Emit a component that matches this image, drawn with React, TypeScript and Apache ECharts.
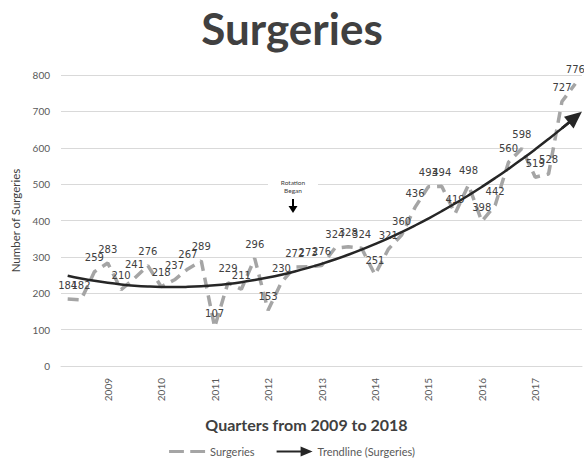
import React, { useEffect, useRef } from "react";
import * as echarts from "echarts";

const quarters = [
  "2009 Q1", "2009 Q2", "2009 Q3", "2009 Q4",
  "2010 Q1", "2010 Q2", "2010 Q3", "2010 Q4",
  "2011 Q1", "2011 Q2", "2011 Q3", "2011 Q4",
  "2012 Q1", "2012 Q2", "2012 Q3", "2012 Q4",
  "2013 Q1", "2013 Q2", "2013 Q3", "2013 Q4",
  "2014 Q1", "2014 Q2", "2014 Q3", "2014 Q4",
  "2015 Q1", "2015 Q2", "2015 Q3", "2015 Q4",
  "2016 Q1", "2016 Q2", "2016 Q3", "2016 Q4",
  "2017 Q1", "2017 Q2", "2017 Q3", "2017 Q4",
  "2018 Q1", "2018 Q2", "2018 Q3",
];

const surgeries = [
  184, 182, 259, 283, 210, 241, 276, 218, 237, 267, 289, 107, 229, 211, 296, 153,
  230, 272, 273, 276, 324, 328, 324, 251, 321, 360, 436, 493, 494, 419, 498, 398,
  442, 560, 598, 519, 528, 727, 776,
];

const yTicks = [0, 100, 200, 300, 400, 500, 600, 700, 800];

const TREND_DEGREE = 2;

function polyfit(ys: number[], deg: number): number[] {
  const n = deg + 1;
  const A: number[][] = Array.from({ length: n }, () => new Array(n + 1).fill(0));
  ys.forEach((y, i) => {
    const x = i + 1;
    for (let r = 0; r < n; r++) {
      for (let c = 0; c < n; c++) A[r][c] += Math.pow(x, r + c);
      A[r][n] += y * Math.pow(x, r);
    }
  });
  for (let k = 0; k < n; k++) {
    let p = k;
    for (let r = k + 1; r < n; r++) if (Math.abs(A[r][k]) > Math.abs(A[p][k])) p = r;
    const tmp = A[k]; A[k] = A[p]; A[p] = tmp;
    for (let r = 0; r < n; r++) {
      if (r === k) continue;
      const f = A[r][k] / A[k][k];
      for (let c = k; c <= n; c++) A[r][c] -= f * A[k][c];
    }
  }
  return A.map((row, i) => row[n] / row[i]);
}

export default function App() {
  const ref = useRef<HTMLDivElement>(null);
  useEffect(() => {
    if (!ref.current) return;
    const chart = echarts.init(ref.current, null, { renderer: "svg" });
    const coeffs = polyfit(surgeries, TREND_DEGREE);
    const trend = surgeries.map((_, i) =>
      coeffs.reduce((s, c, j) => s + c * Math.pow(i + 1, j), 0)
    );
    const last = quarters.length - 1;
    chart.setOption({
      animation: false,
      title: {
        text: "Surgeries",
        left: "center",
        top: 1,
        textStyle: { fontFamily: "Lato", fontWeight: 700, fontSize: 44, color: "#404040" },
      },
      grid: { left: 61, right: 2, top: 75, bottom: 96, containLabel: false },
      legend: {
        bottom: 0,
        left: "center",
        itemWidth: 36,
        itemHeight: 10,
        itemGap: 22,
        textStyle: { fontFamily: "Lato", fontSize: 11, color: "#595959" },
        data: [
          {
            name: "Surgeries",
            icon: "path://M0,3.5 L14,3.5 L14,6.5 L0,6.5 Z M20,3.5 L34,3.5 L34,6.5 L20,6.5 Z",
            itemStyle: { color: "#A5A5A5", opacity: 1 },
          },
          {
            name: "Trendline (Surgeries)",
            icon: "path://M0,4 L24,4 L24,0 L36,5 L24,10 L24,6 L0,6 Z",
            itemStyle: { color: "#262626" },
          },
        ],
      },
      xAxis: {
        type: "category",
        data: quarters,
        boundaryGap: true,
        name: "Quarters from 2009 to 2018",
        nameLocation: "middle",
        nameGap: 50,
        nameTextStyle: {
          fontFamily: "Lato",
          fontWeight: 700,
          fontSize: 16,
          color: "#404040",
          padding: [0, 30, 0, 0],
        },
        axisLine: { lineStyle: { color: "#D9D9D9" } },
        axisTick: { show: false },
        axisLabel: {
          interval: (index: number) => index % 4 === 3,
          rotate: 90,
          margin: 12,
          fontFamily: "Lato",
          fontSize: 10,
          color: "#595959",
          formatter: (v: string) => v.split(" ")[0],
        },
      },
      yAxis: {
        type: "value",
        min: yTicks[0],
        max: yTicks[yTicks.length - 1],
        interval: 100,
        name: "Number of Surgeries",
        nameLocation: "middle",
        nameGap: 40,
        nameTextStyle: { fontFamily: "Lato", fontSize: 11.5, color: "#404040" },
        axisLine: { show: false },
        axisTick: { show: false },
        splitLine: { lineStyle: { color: "#D9D9D9", width: 1 } },
        axisLabel: { margin: 11, fontFamily: "Lato", fontSize: 10, color: "#595959" },
      },
      series: [
        {
          name: "Surgeries",
          type: "line",
          data: surgeries,
          symbol: "circle",
          symbolSize: 0.1,
          showSymbol: true,
          showAllSymbol: true,
          z: 2,
          lineStyle: { color: "#A5A5A5", width: 3.5, type: [11, 7], cap: "butt" },
          itemStyle: { color: "rgba(165,165,165,0)", borderWidth: 0 },
          label: {
            show: true,
            position: "top",
            distance: 9,
            fontFamily: "DejaVu Sans",
            fontSize: 10,
            color: "#404040",
          },
          labelLayout: { hideOverlap: false },
        },
        {
          name: "Trendline (Surgeries)",
          type: "line",
          data: trend,
          smooth: true,
          symbol: "none",
          z: 3,
          lineStyle: { color: "#262626", width: 2.5 },
          itemStyle: { color: "#262626" },
          markLine: {
            silent: true,
            symbol: ["none", "triangle"],
            symbolSize: [15, 17],
            label: { show: false },
            lineStyle: { color: "#262626", width: 2.5, type: "solid" },
            data: [
              [
                { coord: [quarters[last - 1], trend[last - 1]] },
                { coord: [quarters[last], trend[last]] },
              ],
            ],
          },
        },
      ],
      graphic: [
        {
          type: "rect",
          z: 100,
          shape: { x: 268, y: 175, width: 50, height: 21 },
          style: { fill: "#FFFFFF" },
        },
        {
          type: "text",
          z: 101,
          x: 293,
          y: 178,
          style: {
            text: "Rotation\nBegan",
            fontFamily: "Lato",
            fontSize: 6.5,
            lineHeight: 8,
            fill: "#404040",
            align: "center",
          },
        },
        {
          type: "line",
          z: 101,
          shape: { x1: 293, y1: 199, x2: 293, y2: 208 },
          style: { stroke: "#000000", lineWidth: 2 },
        },
        {
          type: "polygon",
          z: 101,
          shape: { points: [[288.5, 206], [297.5, 206], [293, 213]] },
          style: { fill: "#000000" },
        },
      ],
    });
    return () => chart.dispose();
  }, []);
  return (
    <div
      ref={ref}
      style={{ position: "fixed", left: 0, top: 0, width: 584, height: 462, background: "#FFFFFF" }}
    />
  );
}
